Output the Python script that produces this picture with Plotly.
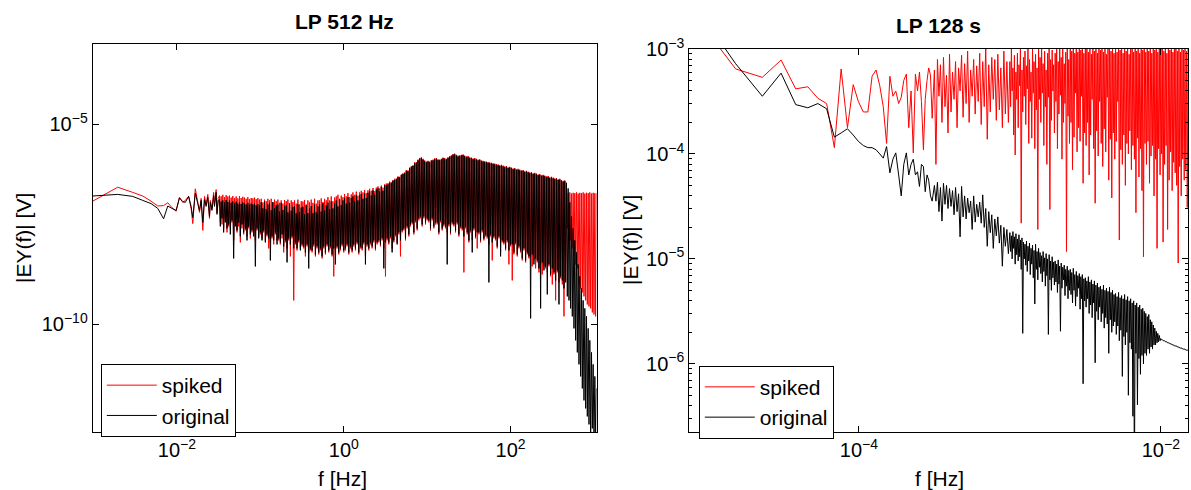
import plotly.graph_objects as go

# ================= LEFT PANEL (LP 512 Hz) =================
# log10 of frequency [Hz]: FFT bins 1..32, then a fine grid
lf_left = [
    -3.01, -2.71, -2.53, -2.41, -2.31, -2.23, -2.16, -2.11, -2.06, -2.01, -1.97, -1.93, -1.90, -1.86, -1.83, -1.81,
    -1.78, -1.75, -1.73, -1.71, -1.69, -1.67, -1.65, -1.63, -1.61, -1.60, -1.58, -1.56, -1.55, -1.53, -1.52, -1.505,
    -1.49, -1.48, -1.47, -1.46, -1.45, -1.44, -1.43, -1.42, -1.41, -1.40,
    -1.39, -1.38, -1.37, -1.36, -1.35, -1.34, -1.33, -1.32, -1.31, -1.30,
    -1.29, -1.28, -1.27, -1.26, -1.25, -1.24, -1.23, -1.22, -1.21, -1.20,
    -1.19, -1.18, -1.17, -1.16, -1.15, -1.14, -1.13, -1.12, -1.11, -1.10,
    -1.09, -1.08, -1.07, -1.06, -1.05, -1.04, -1.03, -1.02, -1.01, -1.00,
    -0.99, -0.98, -0.97, -0.96, -0.95, -0.94, -0.93, -0.92, -0.91, -0.90,
    -0.89, -0.88, -0.87, -0.86, -0.85, -0.84, -0.83, -0.82, -0.81, -0.80,
    -0.79, -0.78, -0.77, -0.76, -0.75, -0.74, -0.73, -0.72, -0.71, -0.70,
    -0.69, -0.68, -0.67, -0.66, -0.65, -0.64, -0.63, -0.62, -0.61, -0.60,
    -0.59, -0.58, -0.57, -0.56, -0.55, -0.54, -0.53, -0.52, -0.51, -0.50,
    -0.49, -0.48, -0.47, -0.46, -0.45, -0.44, -0.43, -0.42, -0.41, -0.40,
    -0.39, -0.38, -0.37, -0.36, -0.35, -0.34, -0.33, -0.32, -0.31, -0.30,
    -0.29, -0.28, -0.27, -0.26, -0.25, -0.24, -0.23, -0.22, -0.21, -0.20,
    -0.19, -0.18, -0.17, -0.16, -0.15, -0.14, -0.13, -0.12, -0.11, -0.10,
    -0.09, -0.08, -0.07, -0.06, -0.05, -0.04, -0.03, -0.02, -0.01, 0.00,
    0.01, 0.02, 0.03, 0.04, 0.05, 0.06, 0.07, 0.08, 0.09, 0.10,
    0.11, 0.12, 0.13, 0.14, 0.15, 0.16, 0.17, 0.18, 0.19, 0.20,
    0.21, 0.22, 0.23, 0.24, 0.25, 0.26, 0.27, 0.28, 0.29, 0.30,
    0.31, 0.32, 0.33, 0.34, 0.35, 0.36, 0.37, 0.38, 0.39, 0.40,
    0.41, 0.42, 0.43, 0.44, 0.45, 0.46, 0.47, 0.48, 0.49, 0.50,
    0.51, 0.52, 0.53, 0.54, 0.55, 0.56, 0.57, 0.58, 0.59, 0.60,
    0.61, 0.62, 0.63, 0.64, 0.65, 0.66, 0.67, 0.68, 0.69, 0.70,
    0.71, 0.72, 0.73, 0.74, 0.75, 0.76, 0.77, 0.78, 0.79, 0.80,
    0.81, 0.82, 0.83, 0.84, 0.85, 0.86, 0.87, 0.88, 0.89, 0.90,
    0.91, 0.92, 0.93, 0.94, 0.95, 0.96, 0.97, 0.98, 0.99, 1.00,
    1.01, 1.02, 1.03, 1.04, 1.05, 1.06, 1.07, 1.08, 1.09, 1.10,
    1.11, 1.12, 1.13, 1.14, 1.15, 1.16, 1.17, 1.18, 1.19, 1.20,
    1.21, 1.22, 1.23, 1.24, 1.25, 1.26, 1.27, 1.28, 1.29, 1.30,
    1.31, 1.32, 1.33, 1.34, 1.35, 1.36, 1.37, 1.38, 1.39, 1.40,
    1.41, 1.42, 1.43, 1.44, 1.45, 1.46, 1.47, 1.48, 1.49, 1.50,
    1.51, 1.52, 1.53, 1.54, 1.55, 1.56, 1.57, 1.58, 1.59, 1.60,
    1.61, 1.62, 1.63, 1.64, 1.65, 1.66, 1.67, 1.68, 1.69, 1.70,
    1.71, 1.72, 1.73, 1.74, 1.75, 1.76, 1.77, 1.78, 1.79, 1.80,
    1.81, 1.82, 1.83, 1.84, 1.85, 1.86, 1.87, 1.88, 1.89, 1.90,
    1.91, 1.92, 1.93, 1.94, 1.95, 1.96, 1.97, 1.98, 1.99, 2.00,
    2.01, 2.02, 2.03, 2.04, 2.05, 2.06, 2.07, 2.08, 2.09, 2.10,
    2.11, 2.12, 2.13, 2.14, 2.15, 2.16, 2.17, 2.18, 2.19, 2.20,
    2.21, 2.22, 2.23, 2.24, 2.25, 2.26, 2.27, 2.28, 2.29, 2.30,
    2.31, 2.32, 2.33, 2.34, 2.35, 2.36, 2.37, 2.38, 2.39, 2.40,
    2.41, 2.42, 2.43, 2.44, 2.45, 2.46, 2.47, 2.48, 2.49, 2.50,
    2.51, 2.52, 2.53, 2.54, 2.55, 2.56, 2.57, 2.58, 2.59, 2.60,
    2.61, 2.62, 2.63, 2.64, 2.65, 2.66, 2.67, 2.68, 2.69, 2.70,
    2.71, 2.72, 2.73, 2.74, 2.75, 2.76, 2.77, 2.78, 2.79, 2.80,
    2.81, 2.82, 2.83, 2.84, 2.85, 2.86, 2.87, 2.88, 2.89, 2.90,
    2.91, 2.92, 2.93, 2.94, 2.95, 2.96, 2.97, 2.98, 2.99, 3.00,
    3.01, 3.02, 3.03,
]

# log10 |EY(f)| [V] -- spiked
spiked_left = [
    -6.92, -6.57, -6.70, -6.79, -6.92, -7.04, -7.03, -6.96, -7.08, -7.17, -6.82, -6.95, -6.90, -6.80, -7.10, -7.48,
    -6.61, -6.95, -7.20, -6.85, -7.65, -6.80, -7.00, -6.75, -7.35, -6.90, -7.10, -6.70, -7.00, -6.63, -7.20, -6.85,
    -6.78, -7.45, -6.80, -7.50, -6.76, -7.60, -6.82, -7.40, -6.77, -7.70,
    -6.80, -7.55, -6.78, -7.60, -6.83, -7.45, -6.79, -7.90, -6.84, -7.50,
    -6.80, -7.70, -6.85, -7.55, -6.79, -7.95, -6.84, -7.60, -6.81, -7.75,
    -6.83, -7.65, -6.86, -7.80, -6.82, -7.60, -6.87, -7.85, -6.84, -7.70,
    -6.85, -7.75, -6.83, -7.90, -6.87, -7.65, -6.84, -7.80, -6.88, -7.75,
    -6.86, -7.85, -6.95, -7.70, -6.88, -7.90, -6.92, -7.80, -6.86, -8.10,
    -6.90, -7.95, -6.86, -7.85, -6.96, -8.00, -6.88, -7.75, -6.92, -7.90,
    -6.88, -7.90, -6.96, -8.00, -6.90, -7.85, -6.98, -8.20, -6.89, -7.95,
    -6.92, -8.10, -6.88, -7.90, -6.98, -8.30, -6.90, -7.85, -6.94, -9.40,
    -6.90, -8.00, -6.98, -8.15, -6.88, -7.95, -7.00, -8.10, -6.92, -8.05,
    -6.93, -8.10, -6.89, -8.30, -7.00, -8.05, -6.90, -8.20, -6.95, -8.15,
    -6.88, -8.20, -6.96, -8.05, -6.86, -8.30, -6.98, -8.10, -6.90, -8.25,
    -6.90, -8.15, -6.85, -8.35, -6.94, -8.10, -6.86, -8.25, -6.90, -8.05,
    -6.82, -8.20, -6.90, -8.10, -6.80, -8.30, -6.92, -8.80, -6.83, -8.20,
    -6.80, -8.10, -6.76, -8.25, -6.86, -8.15, -6.78, -8.05, -6.82, -8.20,
    -6.74, -8.15, -6.80, -8.05, -6.72, -8.25, -6.82, -8.10, -6.75, -8.20,
    -6.70, -8.05, -6.76, -8.15, -6.68, -8.00, -6.78, -8.25, -6.70, -8.10,
    -6.66, -8.15, -6.70, -8.00, -6.64, -8.30, -6.72, -8.05, -6.65, -8.15,
    -6.61, -8.00, -6.66, -8.10, -6.59, -7.95, -6.67, -8.15, -6.58, -8.00,
    -6.55, -7.95, -6.60, -8.05, -6.53, -7.90, -6.58, -8.10, -6.50, -8.80,
    -6.48, -7.90, -6.47, -8.00, -6.43, -7.85, -6.44, -8.10, -6.39, -7.95,
    -6.36, -7.80, -6.35, -7.95, -6.30, -7.75, -6.31, -8.30, -6.25, -7.70,
    -6.22, -7.65, -6.20, -7.90, -6.14, -7.60, -6.15, -7.80, -6.08, -7.55,
    -6.04, -7.50, -6.02, -7.75, -5.95, -7.45, -5.94, -7.65, -5.88, -7.40,
    -5.84, -7.35, -5.82, -7.55, -5.86, -7.35, -5.90, -7.50, -5.93, -7.40,
    -5.91, -7.45, -5.93, -7.65, -5.89, -7.40, -5.88, -7.60, -5.85, -7.50,
    -5.84, -7.50, -5.87, -7.75, -5.88, -7.45, -5.86, -7.65, -5.83, -7.55,
    -5.84, -7.60, -5.86, -7.70, -5.82, -7.55, -5.79, -7.75, -5.77, -7.50,
    -5.74, -7.55, -5.73, -7.70, -5.76, -7.50, -5.78, -7.80, -5.77, -7.60,
    -5.76, -7.65, -5.75, -8.70, -5.78, -7.60, -5.80, -7.75, -5.79, -7.95,
    -5.82, -7.70, -5.83, -7.90, -5.85, -7.65, -5.84, -7.85, -5.86, -8.10,
    -5.88, -7.75, -5.87, -7.95, -5.90, -7.70, -5.91, -7.90, -5.92, -7.80,
    -5.93, -7.85, -5.94, -8.00, -5.95, -7.80, -5.96, -8.40, -5.97, -7.85,
    -5.98, -7.90, -5.99, -8.10, -6.00, -7.85, -6.02, -8.20, -6.01, -7.95,
    -6.03, -8.00, -6.05, -8.15, -6.04, -7.95, -6.07, -8.50, -6.06, -8.05,
    -6.08, -8.90, -6.10, -8.25, -6.09, -8.00, -6.12, -8.30, -6.11, -8.10,
    -6.13, -8.20, -6.15, -8.40, -6.14, -8.15, -6.17, -8.45, -6.16, -8.25,
    -6.18, -8.35, -6.20, -8.30, -6.19, -8.55, -6.22, -8.40, -6.21, -8.60,
    -6.23, -8.45, -6.25, -8.70, -6.24, -8.50, -6.27, -8.75, -6.26, -8.55,
    -6.28, -8.60, -6.30, -8.70, -6.29, -8.55, -6.32, -8.80, -6.31, -9.00,
    -6.33, -8.75, -6.35, -9.40, -6.34, -8.70, -6.37, -8.95, -6.36, -8.85,
    -6.39, -9.00, -6.41, -9.80, -6.40, -8.90, -6.70, -7.60, -6.72, -7.80,
    -6.70, -7.90, -6.73, -8.10, -6.71, -8.30, -6.72, -8.50, -6.70, -8.60,
    -6.73, -9.00, -6.71, -9.10, -6.72, -9.20, -6.70, -9.30, -6.73, -9.40,
    -6.71, -9.50, -6.72, -9.55, -6.70, -9.60, -6.73, -9.70, -6.71, -9.75,
    -6.72, -9.80, -6.72,
]

# log10 |EY(f)| [V] -- original
original_left = [
    -6.79, -6.75, -6.80, -6.90, -6.98, -7.10, -7.36, -7.04, -7.10, -7.15, -6.84, -6.93, -6.95, -6.80, -7.05, -7.33,
    -6.72, -6.98, -7.15, -6.90, -7.45, -6.88, -7.05, -6.82, -7.30, -6.95, -7.15, -6.78, -7.05, -6.70, -7.25, -6.90,
    -6.88, -7.55, -6.93, -7.35, -6.90, -7.70, -6.95, -7.45, -6.89, -7.60,
    -6.94, -7.50, -6.90, -7.75, -6.96, -7.40, -6.92, -8.35, -6.97, -7.55,
    -6.93, -7.65, -6.98, -7.45, -6.94, -7.80, -6.99, -7.50, -6.95, -7.70,
    -6.97, -7.60, -7.00, -7.90, -6.96, -7.55, -7.01, -7.75, -6.98, -7.65,
    -7.00, -7.80, -6.98, -8.55, -7.02, -7.60, -6.99, -7.85, -7.03, -7.70,
    -6.95, -7.90, -7.10, -7.65, -6.92, -7.95, -7.12, -7.75, -7.00, -7.85,
    -6.98, -8.40, -7.15, -7.80, -6.94, -7.90, -7.10, -7.70, -7.02, -8.00,
    -7.00, -7.85, -7.18, -7.95, -6.96, -7.75, -7.14, -8.05, -7.05, -7.90,
    -7.02, -8.45, -7.20, -7.85, -6.98, -8.00, -7.16, -7.80, -7.06, -8.10,
    -7.05, -7.95, -7.22, -8.10, -7.00, -7.90, -7.20, -8.15, -7.08, -8.00,
    -7.06, -8.05, -7.25, -8.20, -7.02, -8.00, -7.22, -8.60, -7.10, -8.10,
    -7.04, -8.15, -7.22, -8.00, -7.00, -8.25, -7.20, -8.05, -7.05, -8.20,
    -7.00, -8.10, -7.18, -8.30, -6.97, -8.05, -7.15, -8.20, -7.02, -8.00,
    -6.96, -8.15, -7.12, -8.05, -6.93, -8.25, -7.10, -8.10, -6.97, -8.50,
    -6.90, -8.05, -7.05, -8.20, -6.88, -8.10, -7.02, -8.00, -6.90, -8.15,
    -6.85, -8.10, -6.98, -8.00, -6.82, -8.20, -6.96, -8.05, -6.84, -8.15,
    -6.80, -8.00, -6.92, -8.10, -6.77, -7.95, -6.90, -8.20, -6.78, -8.05,
    -6.74, -8.10, -6.86, -7.95, -6.72, -8.50, -6.84, -8.00, -6.71, -8.10,
    -6.68, -7.95, -6.78, -8.05, -6.65, -7.90, -6.76, -8.10, -6.63, -7.95,
    -6.60, -7.90, -6.68, -8.00, -6.56, -7.85, -6.66, -8.60, -6.52, -7.95,
    -6.52, -7.85, -6.50, -7.95, -6.46, -7.80, -6.47, -8.20, -6.41, -7.90,
    -6.39, -7.75, -6.37, -8.00, -6.32, -7.70, -6.33, -7.90, -6.27, -7.65,
    -6.24, -7.60, -6.22, -7.85, -6.16, -7.55, -6.17, -7.75, -6.10, -7.50,
    -6.06, -7.45, -6.04, -7.70, -5.97, -7.40, -5.96, -7.60, -5.90, -7.35,
    -5.86, -7.30, -5.84, -7.50, -5.88, -7.30, -5.92, -7.45, -5.95, -7.35,
    -5.93, -7.40, -5.95, -7.60, -5.91, -7.35, -5.90, -7.55, -5.87, -7.45,
    -5.86, -7.45, -5.89, -7.70, -5.90, -7.40, -5.88, -7.60, -5.85, -7.50,
    -5.86, -7.55, -5.88, -8.50, -5.84, -7.50, -5.81, -7.70, -5.79, -7.45,
    -5.76, -7.50, -5.75, -7.65, -5.78, -7.45, -5.80, -7.75, -5.79, -7.55,
    -5.78, -7.60, -5.77, -7.80, -5.80, -7.55, -5.82, -7.70, -5.81, -7.90,
    -5.84, -7.65, -5.85, -8.20, -5.87, -7.60, -5.86, -7.80, -5.88, -7.70,
    -5.90, -7.70, -5.89, -7.90, -5.92, -7.65, -5.93, -7.85, -5.94, -7.75,
    -5.95, -7.80, -5.96, -8.95, -5.97, -7.75, -5.98, -7.95, -5.99, -7.80,
    -6.00, -7.85, -6.01, -8.05, -6.02, -7.80, -6.04, -8.30, -6.03, -7.90,
    -6.05, -7.95, -6.07, -8.10, -6.06, -7.90, -6.09, -8.15, -6.08, -8.00,
    -6.10, -8.00, -6.12, -8.20, -6.11, -7.95, -6.14, -8.25, -6.13, -8.05,
    -6.15, -8.15, -6.17, -8.35, -6.16, -8.10, -6.19, -8.40, -6.18, -8.20,
    -6.20, -8.30, -6.22, -9.85, -6.21, -8.25, -6.24, -8.50, -6.23, -8.35,
    -6.25, -8.40, -6.27, -8.60, -6.26, -9.60, -6.29, -8.45, -6.28, -8.65,
    -6.30, -8.55, -6.32, -9.25, -6.31, -8.50, -6.34, -8.75, -6.33, -8.60,
    -6.35, -8.70, -6.37, -8.90, -6.36, -8.65, -6.39, -9.50, -6.38, -8.80,
    -6.41, -8.90, -6.43, -9.10, -6.42, -8.95, -6.46, -9.30, -6.60, -9.40,
    -6.95, -9.60, -7.30, -9.80, -7.60, -10.10, -7.90, -10.40, -8.20, -10.70,
    -8.50, -11.00, -8.80, -11.30, -9.10, -11.60, -9.40, -11.90, -9.60, -12.10,
    -9.80, -12.30, -10.10, -12.50, -10.40, -12.90, -10.70, -12.60, -11.00, -13.00,
    -11.30, -12.80, -11.60,
]

# ================= RIGHT PANEL (LP 128 s) =================
lf_right = [
    -5.118, -4.817, -4.640, -4.516, -4.419, -4.339, -4.272, -4.214, -4.163, -4.118,
    -4.076, -4.038, -4.004, -3.971, -3.941, -3.913, -3.887, -3.862, -3.839, -3.817,
    -3.795, -3.775, -3.756, -3.737, -3.720, -3.703, -3.686, -3.670, -3.655, -3.640,
    -3.626, -3.612, -3.599, -3.586, -3.573, -3.561, -3.549, -3.538, -3.526, -3.515,
    -3.50, -3.49, -3.48, -3.47, -3.46, -3.45, -3.44, -3.43, -3.42, -3.41,
    -3.40, -3.39, -3.38, -3.37, -3.36, -3.35, -3.34, -3.33, -3.32, -3.31,
    -3.30, -3.29, -3.28, -3.27, -3.26, -3.25, -3.24, -3.23, -3.22, -3.21,
    -3.20, -3.19, -3.18, -3.17, -3.16, -3.15, -3.14, -3.13, -3.12, -3.11,
    -3.10, -3.09, -3.08, -3.07, -3.06, -3.05, -3.04, -3.03, -3.02, -3.01,
    -3.000, -2.995, -2.990, -2.985, -2.980, -2.975, -2.970, -2.965, -2.960, -2.955,
    -2.950, -2.945, -2.940, -2.935, -2.930, -2.925, -2.920, -2.915, -2.910, -2.905,
    -2.900, -2.895, -2.890, -2.885, -2.880, -2.875, -2.870, -2.865, -2.860, -2.855,
    -2.850, -2.845, -2.840, -2.835, -2.830, -2.825, -2.820, -2.815, -2.810, -2.805,
    -2.800, -2.795, -2.790, -2.785, -2.780, -2.775, -2.770, -2.765, -2.760, -2.755,
    -2.750, -2.745, -2.740, -2.735, -2.730, -2.725, -2.720, -2.715, -2.710, -2.705,
    -2.700, -2.695, -2.690, -2.685, -2.680, -2.675, -2.670, -2.665, -2.660, -2.655,
    -2.650, -2.645, -2.640, -2.635, -2.630, -2.625, -2.620, -2.615, -2.610, -2.605,
    -2.600, -2.595, -2.590, -2.585, -2.580, -2.575, -2.570, -2.565, -2.560, -2.555,
    -2.550, -2.545, -2.540, -2.535, -2.530, -2.525, -2.520, -2.515, -2.510, -2.505,
    -2.500, -2.495, -2.490, -2.485, -2.480, -2.475, -2.470, -2.465, -2.460, -2.455,
    -2.450, -2.445, -2.440, -2.435, -2.430, -2.425, -2.420, -2.415, -2.410, -2.405,
    -2.400, -2.395, -2.390, -2.385, -2.380, -2.375, -2.370, -2.365, -2.360, -2.355,
    -2.350, -2.345, -2.340, -2.335, -2.330, -2.325, -2.320, -2.315, -2.310, -2.305,
    -2.300, -2.295, -2.290, -2.285, -2.280, -2.275, -2.270, -2.265, -2.260, -2.255,
    -2.250, -2.245, -2.240, -2.235, -2.230, -2.225, -2.220, -2.215, -2.210, -2.205,
    -2.200, -2.195, -2.190, -2.185, -2.180, -2.175, -2.170, -2.165, -2.160, -2.155,
    -2.150, -2.145, -2.140, -2.135, -2.130, -2.125, -2.120, -2.115, -2.110, -2.105,
    -2.100, -2.095, -2.090, -2.085, -2.080, -2.075, -2.070, -2.065, -2.060, -2.055,
    -2.050, -2.045, -2.040, -2.035, -2.030, -2.025, -2.020, -2.015, -2.010, -2.005,
    -2.000, -1.995, -1.990, -1.985, -1.980, -1.975, -1.970, -1.965, -1.960, -1.955,
    -1.950, -1.945, -1.940, -1.935, -1.930, -1.925, -1.920, -1.915, -1.910, -1.905,
    -1.900, -1.895, -1.890, -1.885, -1.880, -1.875, -1.870, -1.865, -1.860, -1.855,
    -1.850, -1.845, -1.840, -1.835, -1.830, -1.825, -1.820,
]

spiked_right = [
    -2.62, -3.19, -3.27, -3.105, -3.38, -3.36, -3.47, -3.52, -3.94, -3.19,
    -3.75, -3.34, -3.50, -3.60, -3.60, -3.26, -3.20, -3.35, -3.55, -3.90,
    -3.26, -3.45, -3.40, -3.52, -3.46, -3.30, -3.24, -3.75, -3.40, -3.99,
    -3.24, -3.40, -3.22, -3.50, -3.96, -3.48, -3.30, -3.18, -3.25, -3.66,
    -3.20, -4.10, -3.10, -3.45, -3.15, -3.70, -3.08, -3.55, -3.25, -3.80,
    -3.05, -3.60, -3.22, -3.48, -3.12, -3.75, -3.18, -3.40, -3.06, -3.65,
    -3.14, -3.52, -3.02, -3.70, -3.20, -3.45, -3.10, -3.62, -3.16, -3.50,
    -3.04, -3.72, -3.12, -3.55, -2.98, -3.86, -3.15, -3.60, -3.08, -3.48,
    -3.10, -3.68, -3.05, -3.58, -3.18, -3.75, -3.02, -3.62, -3.12, -3.70,
    -3.12, -3.55, -3.00, -3.40, -3.18, -3.82, -3.06, -4.01, -3.22, -3.48,
    -3.04, -3.75, -3.15, -3.35, -2.98, -4.66, -3.20, -3.60, -3.08, -3.45,
    -3.02, -3.72, -3.16, -3.38, -2.97, -3.90, -3.10, -3.50, -3.22, -3.85,
    -3.00, -3.42, -3.12, -3.95, -3.05, -3.58, -3.18, -4.72, -2.97, -3.48,
    -3.08, -3.70, -2.98, -3.42, -3.14, -3.92, -3.02, -3.55, -3.20, -4.10,
    -3.04, -3.46, -2.99, -4.53, -3.10, -3.68, -3.01, -3.40, -3.15, -3.80,
    -3.04, -3.50, -2.98, -3.95, -3.12, -3.62, -2.96, -3.44, -3.08, -4.05,
    -3.00, -3.70, -3.14, -3.52, -3.03, -4.93, -2.99, -3.64, -3.10, -3.90,
    -2.98, -3.70, -3.02, -4.15, -2.96, -3.84, -3.04, -3.42, -2.99, -3.98,
    -3.03, -3.75, -2.97, -3.88, -3.01, -3.45, -2.96, -4.28, -3.04, -3.80,
    -3.00, -3.92, -2.97, -3.70, -3.03, -4.20, -2.98, -3.82, -3.05, -3.48,
    -2.96, -3.95, -3.02, -4.47, -2.99, -3.78, -3.04, -4.02, -2.97, -3.50,
    -3.01, -3.90, -2.96, -4.12, -3.03, -3.76, -2.98, -3.98, -3.05, -3.46,
    -3.00, -4.25, -2.97, -3.86, -3.02, -4.42, -2.96, -3.80, -3.04, -4.05,
    -2.99, -3.88, -3.03, -3.50, -2.97, -4.82, -3.01, -3.96, -2.96, -4.10,
    -3.04, -3.82, -2.98, -4.30, -3.02, -3.90, -2.97, -4.00, -3.05, -3.78,
    -3.00, -4.15, -2.96, -3.92, -3.03, -4.05, -2.98, -4.56, -3.02, -3.85,
    -2.97, -4.22, -3.04, -3.95, -2.99, -4.35, -3.01, -4.98, -2.96, -3.90,
    -3.03, -4.10, -2.98, -3.88, -3.02, -4.28, -2.96, -4.02, -3.04, -3.92,
    -2.97, -4.40, -3.01, -4.05, -2.99, -4.90, -3.03, -3.95, -2.96, -4.20,
    -3.00, -4.00, -2.97, -4.84, -3.02, -4.10, -2.96, -3.92, -3.04, -4.72,
    -2.98, -4.25, -3.01, -3.98, -2.97, -4.35, -3.03, -4.08, -2.99, -4.18,
    -2.96, -4.30, -3.02, -5.04, -2.98, -4.12, -3.03, -4.40, -2.97, -4.05,
    -3.01, -4.25, -2.96, -4.15, -3.02, -4.51, -3.00,
]

original_right = [
    -2.52, -3.14, -3.45, -3.23, -3.53, -3.56, -3.52, -3.57, -3.84, -3.80,
    -3.76, -3.82, -3.88, -3.92, -3.94, -3.94, -3.96, -4.00, -4.04, -3.93,
    -4.18, -4.05, -3.99, -4.20, -4.40, -4.10, -3.99, -4.20, -4.10, -4.05,
    -4.20, -4.17, -4.31, -4.10, -4.12, -4.36, -4.20, -4.25, -4.40, -4.45,
    -4.30, -4.45, -4.27, -4.55, -4.32, -4.64, -4.28, -4.48, -4.30, -4.52,
    -4.33, -4.50, -4.35, -4.58, -4.32, -4.55, -4.38, -4.79, -4.31, -4.60,
    -4.40, -4.62, -4.42, -4.56, -4.45, -4.72, -4.40, -4.65, -4.48, -4.60,
    -4.46, -4.66, -4.39, -4.70, -4.52, -4.88, -4.55, -4.75, -4.58, -4.90,
    -4.62, -4.78, -4.60, -4.85, -4.68, -5.07, -4.70, -4.88, -4.72, -4.95,
    -4.75, -4.93, -4.78, -5.00, -4.74, -4.90, -4.79, -5.05, -4.76, -4.96,
    -4.81, -5.02, -4.77, -4.98, -4.82, -5.10, -4.80, -5.71, -4.84, -5.00,
    -4.86, -5.06, -4.83, -5.12, -4.88, -5.02, -4.85, -5.15, -4.90, -5.05,
    -4.87, -5.18, -4.92, -5.43, -4.86, -5.10, -4.93, -5.20, -4.90, -5.08,
    -4.94, -5.14, -4.97, -5.22, -4.93, -5.12, -4.99, -5.26, -4.95, -5.16,
    -5.00, -5.72, -4.96, -5.20, -5.02, -5.30, -4.98, -5.18, -5.03, -5.25,
    -5.02, -5.22, -5.05, -5.32, -5.01, -5.24, -5.07, -5.69, -5.04, -5.28,
    -5.08, -5.20, -5.06, -5.35, -5.10, -5.26, -5.07, -5.38, -5.11, -5.30,
    -5.10, -5.34, -5.13, -5.42, -5.09, -5.30, -5.15, -5.45, -5.12, -5.36,
    -5.16, -5.28, -5.14, -5.48, -5.17, -5.38, -5.15, -6.19, -5.19, -5.40,
    -5.18, -5.46, -5.21, -5.38, -5.17, -5.52, -5.22, -5.44, -5.20, -5.56,
    -5.24, -5.42, -5.21, -5.99, -5.25, -5.50, -5.23, -5.58, -5.27, -5.46,
    -5.26, -5.60, -5.29, -5.52, -5.25, -5.66, -5.30, -5.56, -5.28, -5.62,
    -5.31, -5.90, -5.27, -5.58, -5.32, -5.70, -5.30, -5.64, -5.34, -5.60,
    -5.33, -5.72, -5.36, -5.64, -5.32, -5.78, -5.37, -5.68, -5.35, -6.12,
    -5.38, -5.74, -5.34, -5.82, -5.39, -5.70, -5.36, -6.30, -5.40, -5.80,
    -5.38, -5.86, -5.42, -6.50, -5.40, -7.20, -5.44, -5.90, -5.42, -6.39,
    -5.46, -5.95, -5.44, -6.10, -5.48, -5.92, -5.47, -6.00, -5.50, -5.90,
    -5.52, -5.92, -5.55, -5.86, -5.53, -5.90, -5.58, -5.84, -5.60, -5.86,
    -5.63, -5.82, -5.66, -5.82, -5.69, -5.80, -5.71, -5.79, -5.73, -5.78,
    -5.76, -5.77, -5.77, -5.78, -5.78, -5.78, -5.79, -5.79, -5.79, -5.80,
    -5.80, -5.80, -5.81, -5.81, -5.81, -5.82, -5.82, -5.82, -5.83, -5.83,
    -5.83, -5.83, -5.84, -5.84, -5.84, -5.85, -5.85, -5.85, -5.85, -5.86,
    -5.86, -5.86, -5.86, -5.87, -5.87, -5.87, -5.87,
]

# ---------------- ticks ----------------
xt_left = [1e-2, 1e0, 1e2]
xt_left_text = ["10<sup>\u22122</sup>", "10<sup>0</sup>", "10<sup>2</sup>"]
yt_left = [1e-10, 1e-5]
yt_left_text = ["10<sup>\u221210</sup>", "10<sup>\u22125</sup>"]
xt_right = [1e-4, 1e-2]
xt_right_text = ["10<sup>\u22124</sup>", "10<sup>\u22122</sup>"]
yt_right = [1e-6, 1e-5, 1e-4, 1e-3]
yt_right_text = ["10<sup>\u22126</sup>", "10<sup>\u22125</sup>", "10<sup>\u22124</sup>", "10<sup>\u22123</sup>"]
minor_right = [m * 10.0 ** e for e in (-7, -6, -5, -4) for m in range(2, 10)]

FONT = "Liberation Sans, Arial, sans-serif"
W, H = 1191, 490


def pw(v):
    return [10.0 ** a for a in v]


def same_len(x, y):
    n = min(len(x), len(y))
    return x[:n], y[:n]


fig = go.Figure()
for lf, vals, name, color, xa, ya, lg in [
    (lf_left, spiked_left, "spiked", "#ff0000", "x", "y", "legend"),
    (lf_left, original_left, "original", "#000000", "x", "y", "legend"),
    (lf_right, spiked_right, "spiked", "#ff0000", "x2", "y2", "legend2"),
    (lf_right, original_right, "original", "#000000", "x2", "y2", "legend2"),
]:
    xs, ys = same_len(lf, vals)
    fig.add_trace(go.Scatter(x=pw(xs), y=pw(ys), mode="lines", name=name,
                             line=dict(color=color, width=1.0, simplify=False),
                             xaxis=xa, yaxis=ya, legend=lg))

ax = dict(type="log", showline=True, linecolor="black", linewidth=1, mirror="ticks",
          ticks="inside", ticklen=6, tickcolor="black", tickwidth=1, showgrid=False,
          zeroline=False, automargin=False, tickmode="array",
          tickfont=dict(family=FONT, size=20, color="black"))

y_bot = 1 - 432 / H
fig.update_layout(
    width=W, height=H, autosize=False,
    margin=dict(l=0, r=0, t=0, b=0),
    paper_bgcolor="white", plot_bgcolor="white",
    font=dict(family=FONT, color="black"),
    xaxis=dict(ax, domain=[92.7 / W, 596.5 / W], range=[-3.01, 3.03], anchor="y",
               tickvals=xt_left, ticktext=xt_left_text),
    yaxis=dict(ax, domain=[y_bot, 1 - 44 / H], range=[-12.69, -2.99], anchor="x",
               tickvals=yt_left, ticktext=yt_left_text),
    xaxis2=dict(ax, domain=[689.3 / W, 1188 / W], range=[-5.124, -1.82], anchor="y2",
                tickvals=xt_right, ticktext=xt_right_text),
    yaxis2=dict(ax, domain=[y_bot, 1 - 49 / H], range=[-6.65, -3.0], anchor="x2",
                tickvals=yt_right, ticktext=yt_right_text,
                minor=dict(ticks="inside", ticklen=3, tickcolor="black", tickvals=minor_right)),
    legend=dict(x=100.8 / W, y=1 - 364 / H, xanchor="left", yanchor="top",
                bordercolor="black", borderwidth=1, bgcolor="white",
                font=dict(family=FONT, size=21, color="black"), itemwidth=50, tracegroupgap=0),
    legend2=dict(x=698.8 / W, y=1 - 365.7 / H, xanchor="left", yanchor="top",
                 bordercolor="black", borderwidth=1, bgcolor="white",
                 font=dict(family=FONT, size=21, color="black"), itemwidth=50, tracegroupgap=0),
    showlegend=True,
)

ann_font = dict(family=FONT, size=21, color="black")
fig.add_annotation(text="<b>LP 512 Hz</b>", x=344.6 / W, y=1 - 22 / H, xref="paper", yref="paper",
                   showarrow=False, xanchor="center", yanchor="middle", font=ann_font)
fig.add_annotation(text="<b>LP 128 s</b>", x=938.6 / W, y=1 - 26 / H, xref="paper", yref="paper",
                   showarrow=False, xanchor="center", yanchor="middle", font=ann_font)
fig.add_annotation(text="f [Hz]", x=342.5 / W, y=1 - 478 / H, xref="paper", yref="paper",
                   showarrow=False, xanchor="center", yanchor="middle", font=ann_font)
fig.add_annotation(text="f [Hz]", x=939 / W, y=1 - 478 / H, xref="paper", yref="paper",
                   showarrow=False, xanchor="center", yanchor="middle", font=ann_font)
fig.add_annotation(text="|EY(f)| [V]", x=23 / W, y=1 - 238 / H, xref="paper", yref="paper",
                   showarrow=False, xanchor="center", yanchor="middle", textangle=-90, font=ann_font)
fig.add_annotation(text="|EY(f)| [V]", x=630 / W, y=1 - 240 / H, xref="paper", yref="paper",
                   showarrow=False, xanchor="center", yanchor="middle", textangle=-90, font=ann_font)

fig.write_html("out.html")
